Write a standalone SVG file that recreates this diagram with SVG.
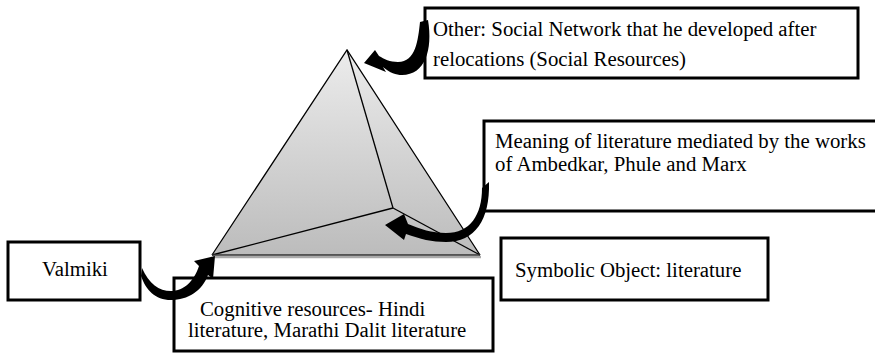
<svg xmlns="http://www.w3.org/2000/svg" width="875" height="353" viewBox="0 0 875 353">
<defs>
<linearGradient id="pyr" x1="0" y1="0" x2="0" y2="1">
<stop offset="0" stop-color="#ececec"/>
<stop offset="1" stop-color="#bcbcbc"/>
</linearGradient>
</defs>
<style>
.box{fill:#fff;stroke:#000;stroke-width:3}
.t{font-family:"Liberation Serif","Times New Roman",serif;font-size:20.8px;fill:#000}
.edge{fill:none;stroke:#000;stroke-width:1.3}
.arr{fill:#000;stroke:none}
</style>
<rect width="875" height="353" fill="#fff"/>
<g id="pyramid">
<line x1="213" y1="257" x2="481" y2="257" stroke="#aaa" stroke-width="2.5"/>
<polygon points="347,50 212,255 480,255" fill="url(#pyr)"/>
<polyline class="edge" points="212,255 347,50 480,255"/>
<line class="edge" x1="347" y1="50" x2="393" y2="208"/>
<line class="edge" x1="212" y1="255" x2="393" y2="208"/>
<line class="edge" x1="393" y1="208" x2="480" y2="255"/>
<line x1="212" y1="255" x2="480" y2="255" stroke="#333" stroke-width="1.5"/>
</g>
<g id="other">
<rect class="box" x="425" y="8" width="433" height="70"/>
<text class="t" x="433" y="36">Other: Social Network that he developed after</text>
<text class="t" x="433" y="66">relocations (Social Resources)</text>
</g>
<g id="meaning">
<rect class="box" x="484" y="121" width="400" height="90"/>
<text class="t" x="495" y="148">Meaning of literature mediated by the works</text>
<text class="t" x="495" y="171">of Ambedkar, Phule and Marx</text>
</g>
<g id="valmiki">
<rect class="box" x="8" y="242" width="132" height="58"/>
<text class="t" x="42" y="276">Valmiki</text>
</g>
<g id="cognitive">
<rect class="box" x="174" y="278" width="319" height="73"/>
<text class="t" x="200" y="316">Cognitive resources- Hindi</text>
<text class="t" x="188" y="337">literature, Marathi Dalit literature</text>
</g>
<g id="symbolic">
<rect class="box" x="501" y="238" width="267" height="62"/>
<text class="t" x="515" y="277">Symbolic Object: literature</text>
</g>
<g id="connectors">
<path class="arr" d="M420,22 C418,40 416,62 398,62 C390,62 384,59 379,56 L375,50 L364,63 L386,72 L383,67 C390,73 396,75 402,75 C425,75 433,50 428,20 Z"/>
<path class="arr" d="M482,188 C482,215 470,233 446,233 C432,233 420,229 408,224 L404,214 L385,225 L404,240 L406,234 C420,239 432,242 446,242 C475,242 490,220 489,182 Z"/>
<path class="arr" d="M142,268 C149,284 159,291 171,291 C184,291 194,281 199,266 L194,261 L215,256 L213,279 L208,275 C202,291 188,300 171,300 C155,300 146,290 141,276 Z"/>
</g>
</svg>
